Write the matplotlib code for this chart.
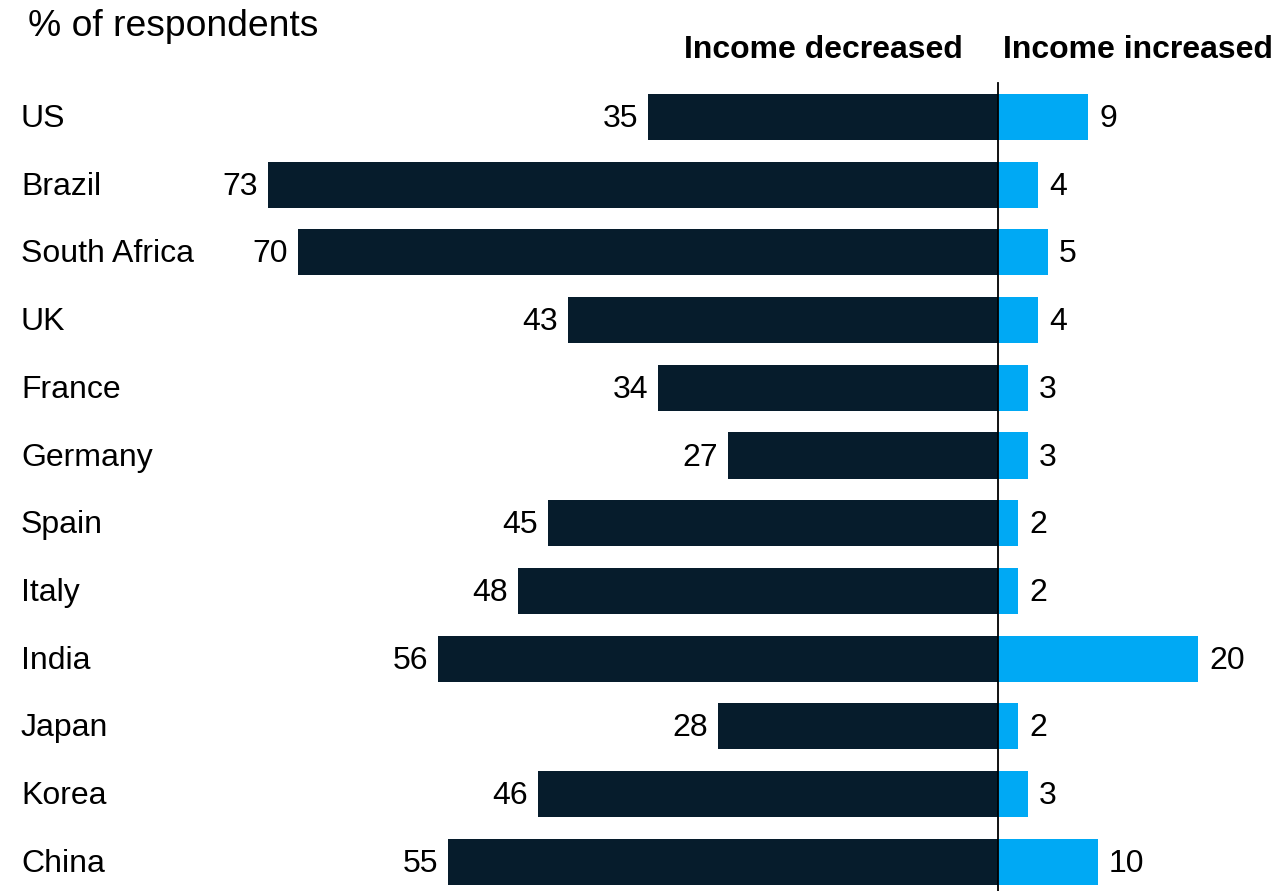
import matplotlib.pyplot as plt
import numpy as np

# Data
countries = ['US', 'Brazil', 'South Africa', 'UK', 'France', 'Germany',
             'Spain', 'Italy', 'India', 'Japan', 'Korea', 'China']
decreased = [35, 73, 70, 43, 34, 27, 45, 48, 56, 28, 46, 55]
increased = [9, 4, 5, 4, 3, 3, 2, 2, 20, 2, 3, 10]

dark = '#061C2C'
blue = '#00A9F4'

plt.rcParams['font.family'] = ['Liberation Sans', 'DejaVu Sans']

fig = plt.figure(figsize=(12.76, 8.91), dpi=100)
ax = fig.add_axes([0, 0, 1, 1])

y = np.arange(len(countries))
ax.barh(y, [-v for v in decreased], height=0.68, color=dark)
ax.barh(y, increased, height=0.68, color=blue)

# value labels
for i in range(len(countries)):
    ax.annotate(str(decreased[i]), (-decreased[i], y[i]), xytext=(-7, -1.5),
                textcoords='offset points', ha='right', va='center',
                fontsize=23, color='black')
    ax.annotate(str(increased[i]), (increased[i], y[i]), xytext=(8, -1.5),
                textcoords='offset points', ha='left', va='center',
                fontsize=23, color='black')
    # country names
    ax.annotate(countries[i], (-97.7, y[i]), xytext=(0, -1.5),
                textcoords='offset points', ha='left', va='center',
                fontsize=23, color='black')

# center line
ax.axvline(0, ymin=0, ymax=1 - 83 / 891, color='black', lw=1.3)

ax.set_xlim(-99.8, 27.8)
ax.set_ylim(11.433, -1.728)
ax.axis('off')

# headers
fig.text(28 / 1276, 1 - 27 / 891, '% of respondents', fontsize=26.8,
         ha='left', va='center')
fig.text(963 / 1276, 1 - 50 / 891, 'Income decreased', fontsize=23,
         fontweight='bold', ha='right', va='center')
fig.text(1003 / 1276, 1 - 50 / 891, 'Income increased', fontsize=23,
         fontweight='bold', ha='left', va='center')

plt.savefig('out.png', dpi=100)
